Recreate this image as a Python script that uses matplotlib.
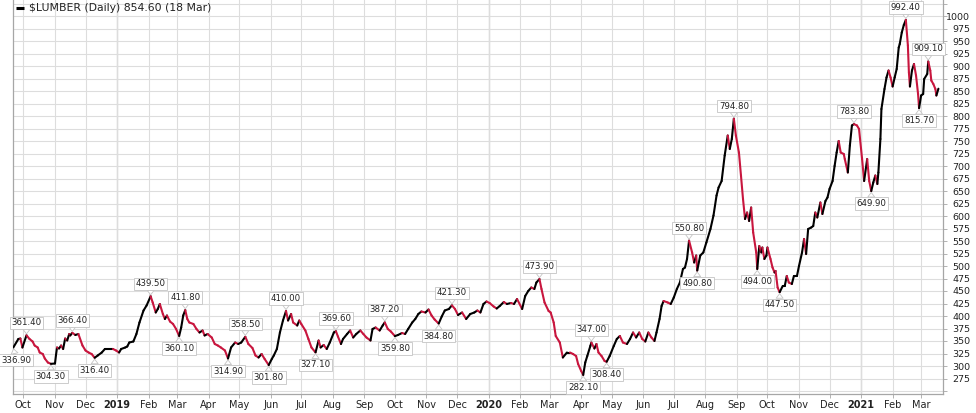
import matplotlib
matplotlib.use('Agg')
import matplotlib.pyplot as plt
import matplotlib.dates as mdates
from matplotlib.collections import LineCollection
from matplotlib.lines import Line2D
import numpy as np
import pandas as pd

# ---------------- data ----------------
dates = [
    '2018-09-21', '2018-09-26', '2018-09-28', '2018-09-30', '2018-10-04', '2018-10-07', '2018-10-10', '2018-10-12',
    '2018-10-15', '2018-10-17', '2018-10-20', '2018-10-22', '2018-10-25', '2018-10-28', '2018-11-01', '2018-11-02',
    '2018-11-03', '2018-11-05', '2018-11-07', '2018-11-09', '2018-11-11', '2018-11-13', '2018-11-15', '2018-11-16',
    '2018-11-18', '2018-11-21', '2018-11-24', '2018-11-28', '2018-12-01', '2018-12-04', '2018-12-07', '2018-12-10',
    '2018-12-13', '2018-12-17', '2018-12-20', '2018-12-28', '2018-12-31', '2019-01-03', '2019-01-05', '2019-01-09',
    '2019-01-11', '2019-01-13', '2019-01-17', '2019-01-20', '2019-01-23', '2019-01-27', '2019-01-30', '2019-02-03',
    '2019-02-05', '2019-02-08', '2019-02-10', '2019-02-12', '2019-02-15', '2019-02-17', '2019-02-19', '2019-02-22',
    '2019-02-25', '2019-02-28', '2019-03-03', '2019-03-05', '2019-03-07', '2019-03-09', '2019-03-11', '2019-03-13',
    '2019-03-17', '2019-03-20', '2019-03-23', '2019-03-26', '2019-03-28', '2019-03-31', '2019-04-04', '2019-04-07',
    '2019-04-10', '2019-04-13', '2019-04-17', '2019-04-20', '2019-04-23', '2019-04-27', '2019-04-30', '2019-05-03',
    '2019-05-07', '2019-05-10', '2019-05-14', '2019-05-17', '2019-05-20', '2019-05-23', '2019-05-26', '2019-05-30',
    '2019-06-02', '2019-06-04', '2019-06-07', '2019-06-10', '2019-06-13', '2019-06-16', '2019-06-18', '2019-06-21',
    '2019-06-23', '2019-06-27', '2019-06-29', '2019-07-01', '2019-07-05', '2019-07-08', '2019-07-11', '2019-07-15',
    '2019-07-18', '2019-07-20', '2019-07-23', '2019-07-26', '2019-07-29', '2019-08-02', '2019-08-04', '2019-08-06',
    '2019-08-09', '2019-08-11', '2019-08-15', '2019-08-18', '2019-08-21', '2019-08-24', '2019-08-28', '2019-08-31',
    '2019-09-03', '2019-09-07', '2019-09-09', '2019-09-12', '2019-09-16', '2019-09-19', '2019-09-21', '2019-09-24',
    '2019-09-27', '2019-10-01', '2019-10-04', '2019-10-08', '2019-10-11', '2019-10-14', '2019-10-18', '2019-10-21',
    '2019-10-24', '2019-10-27', '2019-10-31', '2019-11-03', '2019-11-06', '2019-11-09', '2019-11-13', '2019-11-16',
    '2019-11-19', '2019-11-23', '2019-11-26', '2019-11-29', '2019-12-02', '2019-12-06', '2019-12-10', '2019-12-14',
    '2019-12-18', '2019-12-21', '2019-12-24', '2019-12-27', '2019-12-30', '2020-01-02', '2020-01-06', '2020-01-09',
    '2020-01-12', '2020-01-16', '2020-01-19', '2020-01-23', '2020-01-26', '2020-01-29', '2020-02-03', '2020-02-06',
    '2020-02-09', '2020-02-12', '2020-02-15', '2020-02-17', '2020-02-20', '2020-02-22', '2020-02-25', '2020-02-29',
    '2020-03-02', '2020-03-05', '2020-03-07', '2020-03-11', '2020-03-14', '2020-03-18', '2020-03-21', '2020-03-24',
    '2020-03-27', '2020-03-29', '2020-04-01', '2020-04-03', '2020-04-05', '2020-04-07', '2020-04-10', '2020-04-11',
    '2020-04-14', '2020-04-16', '2020-04-18', '2020-04-21', '2020-04-24', '2020-04-26', '2020-04-29', '2020-05-03',
    '2020-05-06', '2020-05-09', '2020-05-12', '2020-05-16', '2020-05-19', '2020-05-22', '2020-05-25', '2020-05-28',
    '2020-05-31', '2020-06-03', '2020-06-06', '2020-06-09', '2020-06-12', '2020-06-14', '2020-06-17', '2020-06-19',
    '2020-06-21', '2020-06-25', '2020-06-28', '2020-07-01', '2020-07-04', '2020-07-07', '2020-07-10', '2020-07-12',
    '2020-07-14', '2020-07-16', '2020-07-19', '2020-07-21', '2020-07-23', '2020-07-24', '2020-07-27', '2020-07-30',
    '2020-08-02', '2020-08-06', '2020-08-09', '2020-08-12', '2020-08-14', '2020-08-17', '2020-08-20', '2020-08-23',
    '2020-08-25', '2020-08-27', '2020-08-29', '2020-08-31', '2020-09-03', '2020-09-05', '2020-09-07', '2020-09-09',
    '2020-09-11', '2020-09-13', '2020-09-15', '2020-09-17', '2020-09-20', '2020-09-21', '2020-09-23', '2020-09-25',
    '2020-09-26', '2020-09-28', '2020-09-30', '2020-10-01', '2020-10-04', '2020-10-06', '2020-10-08', '2020-10-09',
    '2020-10-11', '2020-10-13', '2020-10-16', '2020-10-18', '2020-10-20', '2020-10-22', '2020-10-25', '2020-10-27',
    '2020-10-30', '2020-11-01', '2020-11-04', '2020-11-06', '2020-11-08', '2020-11-10', '2020-11-13', '2020-11-15',
    '2020-11-17', '2020-11-19', '2020-11-22', '2020-11-24', '2020-11-27', '2020-11-29', '2020-12-01', '2020-12-04',
    '2020-12-06', '2020-12-08', '2020-12-10', '2020-12-12', '2020-12-15', '2020-12-16', '2020-12-19', '2020-12-21',
    '2020-12-23', '2020-12-25', '2020-12-28', '2020-12-30', '2021-01-02', '2021-01-04', '2021-01-07', '2021-01-09',
    '2021-01-11', '2021-01-13', '2021-01-15', '2021-01-17', '2021-01-18', '2021-01-20', '2021-01-21', '2021-01-24',
    '2021-01-26', '2021-01-28', '2021-01-30', '2021-02-01', '2021-02-03', '2021-02-05', '2021-02-07', '2021-02-08',
    '2021-02-10', '2021-02-12', '2021-02-14', '2021-02-16', '2021-02-17', '2021-02-18', '2021-02-20', '2021-02-22',
    '2021-02-24', '2021-02-26', '2021-02-27', '2021-03-01', '2021-03-03', '2021-03-04', '2021-03-07', '2021-03-08',
    '2021-03-10', '2021-03-11', '2021-03-13', '2021-03-15', '2021-03-16', '2021-03-18',
]

closes = [
    336.9, 354, 355, 337, 361.4, 354, 349, 341,
    337, 327, 324, 315, 307, 304.3, 305, 322,
    337, 335, 341, 334, 355, 351, 364, 361,
    366.4, 362, 364, 341, 331, 327, 324, 316.4,
    321, 327, 334, 334, 331, 327, 334, 337,
    339, 347, 349, 364, 387, 411, 421, 439.5,
    427, 407, 414, 424, 404, 394, 401, 389,
    384, 374, 360.1, 377, 401, 411.8, 394, 387,
    384, 374, 367, 371, 361, 364, 357, 344,
    341, 337, 331, 314.9, 337, 347, 344, 347,
    358.5, 344, 336, 321, 317, 324, 314, 301.8,
    314, 321, 334, 367, 391, 410.0, 391, 404,
    387, 381, 391, 384, 371, 354, 337, 327.1,
    351, 337, 342, 334, 347, 367, 369.6, 359,
    344, 354, 364, 371, 357, 364, 371, 364,
    357, 351, 374, 377, 371, 381, 387.2, 374,
    369, 359.8, 362, 366, 364, 374, 387, 394,
    404, 409, 407, 413, 401, 393, 384.8, 399,
    411, 414, 421.3, 414, 402, 407, 394, 404,
    407, 411, 407, 424, 429, 426, 419, 415,
    420, 428, 424, 426, 424, 434, 414, 440,
    450, 457, 454, 467, 473.9, 454, 427, 410,
    407, 387, 360, 347, 317, 327, 327, 324,
    320, 304, 290, 282.1, 307, 320, 340, 347.0,
    335, 344, 327, 320, 310, 308.4, 320, 340,
    354, 360, 347, 344, 354, 367, 357, 367,
    354, 349, 367, 357, 350, 367, 394, 420,
    430, 427, 424, 437, 454, 467, 494, 497,
    514, 550.8, 527, 507, 521, 490.8, 521, 527,
    547, 574, 601, 641, 657, 670, 721, 761,
    734, 754, 794.8, 761, 727, 681, 634, 594,
    607, 590, 617, 567, 527, 494.0, 540, 527,
    537, 514, 521, 537, 514, 497, 487, 490,
    457, 447.5, 460, 460, 480, 467, 464, 480,
    480, 500, 527, 554, 524, 574, 577, 580,
    607, 597, 627, 604, 630, 637, 654, 670,
    700, 727, 750, 727, 724, 714, 687, 741,
    781, 783.8, 781, 774, 714, 670, 714, 670,
    649.9, 667, 681, 664, 687, 754, 814, 854,
    877, 891, 877, 859, 877, 894, 937, 944,
    967, 982, 992.4, 941, 887, 859, 891, 904,
    881, 844, 815.7, 841, 844, 874, 884, 909.1,
    891, 871, 864, 854, 841, 854.6,
]

# annotated highs / lows: date and whether the label sits above or below
ann_dates = [
    '2018-09-21', '2018-10-04', '2018-10-28', '2018-11-18', '2018-12-10', '2019-02-03', '2019-03-03',
    '2019-03-09', '2019-04-20', '2019-05-07', '2019-05-30', '2019-06-16', '2019-07-15', '2019-08-04',
    '2019-09-21', '2019-10-01', '2019-11-13', '2019-11-26', '2020-02-20', '2020-04-03', '2020-04-11',
    '2020-04-26', '2020-07-16', '2020-07-24', '2020-08-29', '2020-09-21', '2020-10-13', '2020-12-25',
    '2021-01-11', '2021-02-14', '2021-02-27', '2021-03-08',
]
ann_side = [
    'below', 'above', 'below', 'above', 'below', 'above', 'below',
    'above', 'below', 'above', 'below', 'above', 'below', 'above',
    'above', 'below', 'below', 'above', 'above', 'below', 'above',
    'below', 'above', 'below', 'above', 'below', 'below', 'above',
    'below', 'above', 'below', 'above',
]

month_ticks = [
    '2018-10-01', '2018-11-01', '2018-12-01', '2019-01-01', '2019-02-01', '2019-03-01', '2019-04-01',
    '2019-05-01', '2019-06-01', '2019-07-01', '2019-08-01', '2019-09-01', '2019-10-01', '2019-11-01',
    '2019-12-01', '2020-01-01', '2020-02-01', '2020-03-01', '2020-04-01', '2020-05-01', '2020-06-01',
    '2020-07-01', '2020-08-01', '2020-09-01', '2020-10-01', '2020-11-01', '2020-12-01', '2021-01-01',
    '2021-02-01', '2021-03-01',
]
month_labels = [
    'Oct', 'Nov', 'Dec', '2019', 'Feb', 'Mar', 'Apr', 'May', 'Jun', 'Jul', 'Aug', 'Sep', 'Oct', 'Nov',
    'Dec', '2020', 'Feb', 'Mar', 'Apr', 'May', 'Jun', 'Jul', 'Aug', 'Sep', 'Oct', 'Nov', 'Dec', '2021',
    'Feb', 'Mar',
]
year_starts = ['2019-01-01', '2020-01-01', '2021-01-01']
y_ticks = list(range(250, 1026, 25))
legend_text = '$LUMBER (Daily) 854.60 (18 Mar)'

# ---------------- figure ----------------
W, H = 976, 413
fig = plt.figure(figsize=(W / 100, H / 100), dpi=100)
ax = fig.add_axes([13 / W, 19 / H, 930 / W, 394 / H])

UP = '#000000'
DOWN = '#c8163e'
GRID = '#dddddd'
YEARGRID = '#b9b9b9'
SPINE = '#a6a6a6'
TXT = '#222222'

xd = mdates.date2num(pd.to_datetime(dates))
yv = np.asarray(closes, dtype=float)
pts = np.column_stack([xd, yv]).reshape(-1, 1, 2)
segs = np.concatenate([pts[:-1], pts[1:]], axis=1)
cols = [UP if b >= a else DOWN for a, b in zip(yv[:-1], yv[1:])]
lc = LineCollection(segs, colors=cols, linewidths=1.5, capstyle='round',
                    joinstyle='round', zorder=3)
ax.add_collection(lc)

x_left = mdates.date2num(pd.Timestamp('2018-09-20 18:00'))
x_right = mdates.date2num(pd.Timestamp('2021-03-22 12:00'))
ax.set_xlim(x_left, x_right)
ax.set_ylim(244, 1032)

# x axis
ax.set_xticks(mdates.date2num(pd.to_datetime(month_ticks)))
ax.set_xticklabels(month_labels)
for lbl, txt in zip(ax.get_xticklabels(), month_labels):
    if txt.isdigit():
        lbl.set_fontweight('bold')
        lbl.set_fontsize(7)
ax.tick_params(axis='x', length=3, width=0.6, color=SPINE, pad=1.5,
               labelsize=7, labelcolor=TXT)

# y axis on right
ax.yaxis.tick_right()
ax.set_yticks(y_ticks)
ax.set_yticklabels(['' if (t < 275 or t > 1000) else str(t) for t in y_ticks])
ax.tick_params(axis='y', length=3, width=0.6, color=SPINE, pad=16.5,
               labelsize=6.8, labelcolor=TXT)
for lbl in ax.get_yticklabels():
    lbl.set_horizontalalignment('right')

ax.grid(True, color=GRID, linewidth=0.8, zorder=0)
ax.set_axisbelow(True)
for ys in year_starts:
    ax.axvline(mdates.date2num(pd.Timestamp(ys)), color=YEARGRID, linewidth=0.9, zorder=0.5)

for side in ['left', 'bottom', 'right']:
    ax.spines[side].set_color(SPINE)
    ax.spines[side].set_linewidth(0.9)
ax.spines['top'].set_visible(False)

# annotations
lookup = dict(zip(dates, closes))
for d, side in zip(ann_dates, ann_side):
    v = lookup[d]
    xx = mdates.date2num(pd.Timestamp(d))
    dy = 9 if side == 'above' else -9
    dx = 2 if d == dates[0] else 0
    ax.annotate(f'{v:.2f}', xy=(xx, v), xytext=(dx, dy), textcoords='offset points',
                ha='center', va='center', fontsize=6.2, color=TXT, zorder=5,
                annotation_clip=False,
                bbox=dict(boxstyle='square,pad=0.2', fc='white', ec='#c4c4c4', lw=0.6),
                arrowprops=dict(arrowstyle='wedge,tail_width=0.5,shrink_factor=0.5',
                                fc='white', ec='#c4c4c4', lw=0.6, mutation_scale=10,
                                shrinkA=0, shrinkB=1))

# legend
ax.add_line(Line2D([3 / 930, 11 / 930], [1 - 8 / 394, 1 - 8 / 394], transform=ax.transAxes,
                   color=UP, linewidth=2.2, solid_capstyle='butt', clip_on=False, zorder=6))
ax.text(16 / 930, 1 - 8 / 394, legend_text, transform=ax.transAxes, ha='left', va='center',
        fontsize=7.8, color=TXT, zorder=6)

fig.savefig('out.png', dpi=100)
